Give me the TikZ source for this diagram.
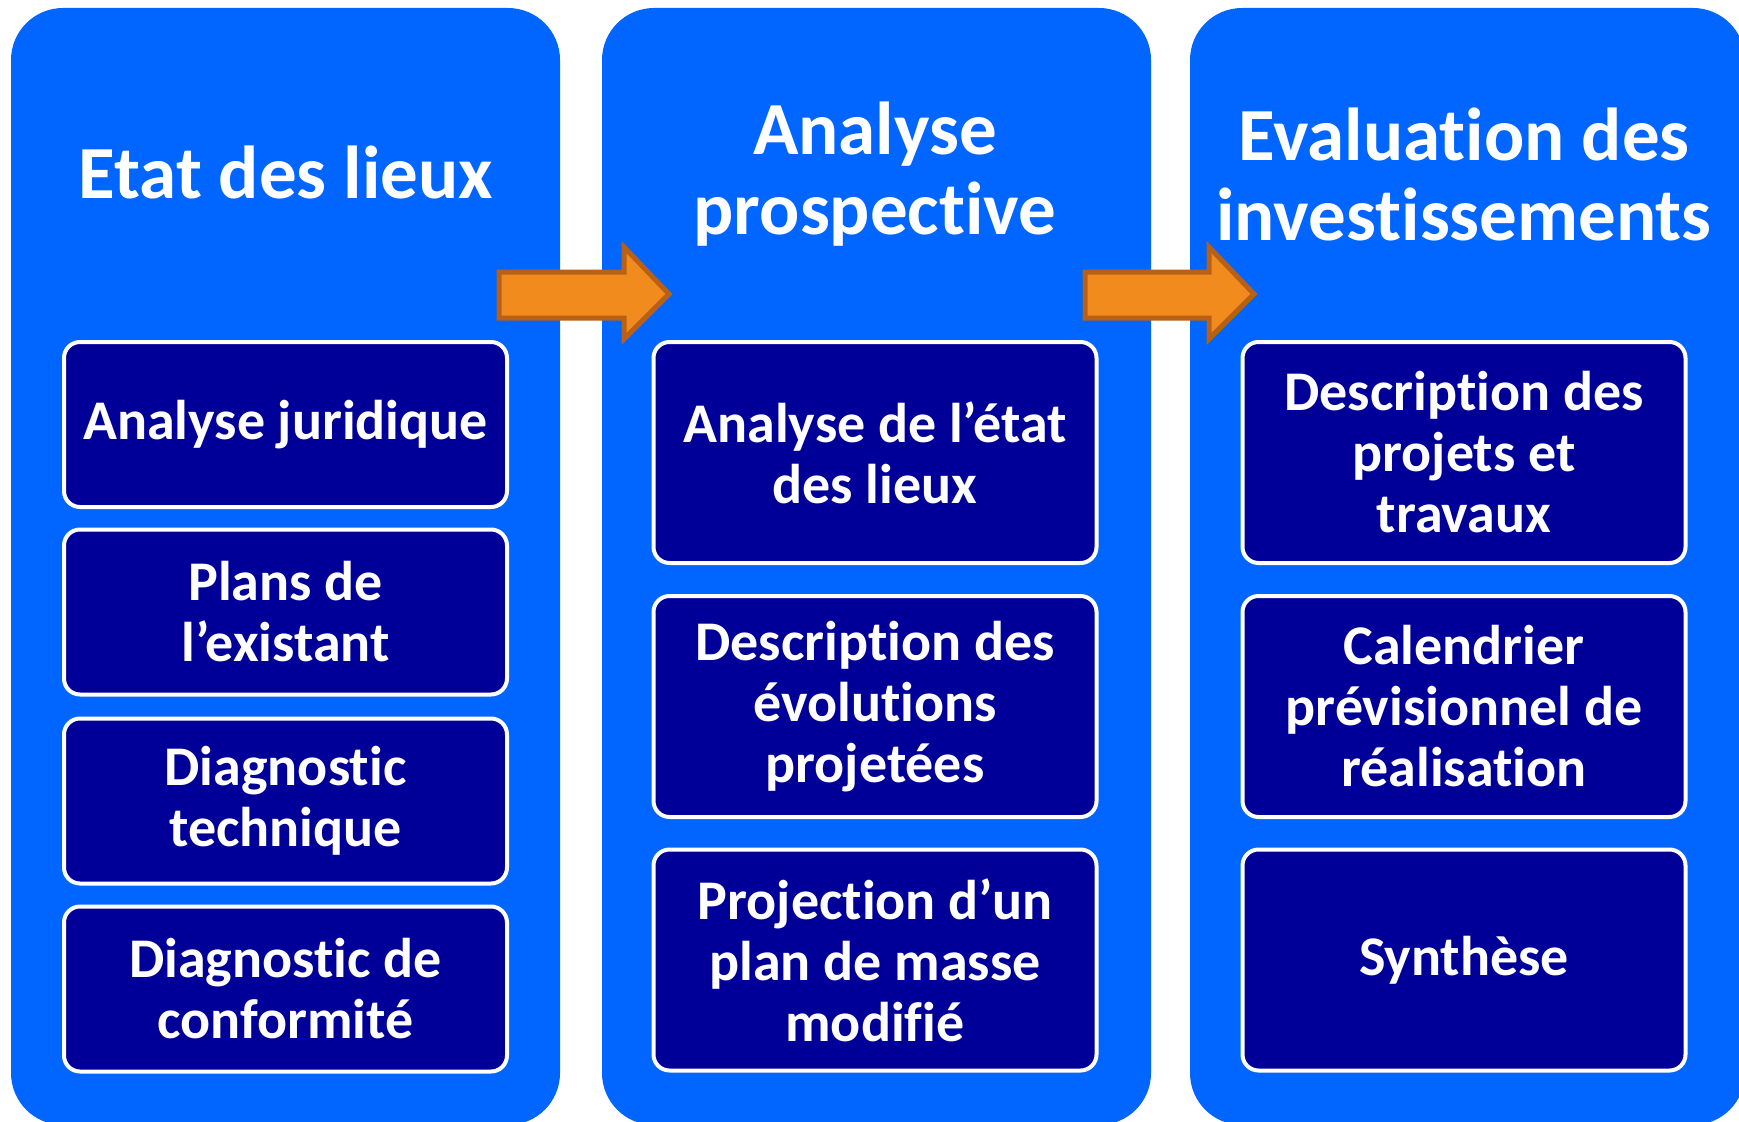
\documentclass[tikz,border=0pt]{standalone}
\usepackage{fontspec}
\setmainfont{Carlito}[RawFeature={-liga;-clig;-calt;-dlig;-rlig}]
\definecolor{colblue}{RGB}{0,102,255}
\definecolor{boxnavy}{RGB}{0,0,153}
\definecolor{arroworange}{RGB}{242,139,30}
\definecolor{arrowedge}{RGB}{184,96,22}
\tikzset{
  column/.style={fill=colblue, rounded corners=52pt},
  title/.style={text=white, align=center, font=\bfseries\fontsize{75}{80}\selectfont},
  item/.style={draw=white, line width=4pt, fill=boxnavy, rounded corners=16pt,
    text=white, align=center, minimum width=443pt,
    font=\bfseries\fontsize{56}{61}\selectfont},
  blockarrow/.style={fill=arroworange, draw=arrowedge, line width=5pt, line join=miter}
}
\begin{document}
\begin{tikzpicture}[x=1pt,y=-1pt]
  \useasboundingbox (0,0) rectangle (1739,1121);
  \clip (0,0) rectangle (1739,1121);
  % columns
  \fill[column] (11,8) rectangle (560,1125);
  \fill[column] (602,8) rectangle (1151,1125);
  \fill[column] (1190,8) rectangle (1745,1125);
  \node[title] (t1) at (286,172) {Etat des lieux};
  \node[title] (t2) at (875,174) {Analyse\\prospective};
  \node[title] (t3) at (1464,174) {Evaluation des\\investissements};
  % arrows
  \draw[blockarrow] (499,272) -- (624,272) -- (624,247) -- (669,294)
    -- (624,339) -- (624,318) -- (499,318) -- cycle;
  \draw[blockarrow] (1085,272) -- (1209,272) -- (1209,247) -- (1254,294)
    -- (1209,339) -- (1209,318) -- (1085,318) -- cycle;
  % first column
  \node[item, minimum height=165pt] (a1) at (285.5,424.5) {Analyse juridique};
  \node[item, minimum height=165pt] (a2) at (285.5,612) {Plans de\\l’existant};
  \node[item, minimum height=165pt] (a3) at (285.5,801) {Diagnostic\\technique};
  \node[item, minimum height=165pt] (a4) at (285.5,989) {Diagnostic de\\conformité};
  % second column
  \node[item, minimum height=221pt] (b1) at (875,452.5) {Analyse de l’état\\des lieux};
  \node[item, minimum height=221pt] (b2) at (875,706.5) {Description des\\évolutions\\projetées};
  \node[item, minimum height=221pt] (b3) at (875,960) {Projection d’un\\plan de masse\\modifié};
  % third column
  \node[item, minimum height=221pt] (c1) at (1464,452.5) {Description des\\projets et\\travaux};
  \node[item, minimum height=221pt] (c2) at (1464,706.5) {Calendrier\\prévisionnel de\\réalisation};
  \node[item, minimum height=221pt] (c3) at (1464,960) {Synthèse};
\end{tikzpicture}
\end{document}
